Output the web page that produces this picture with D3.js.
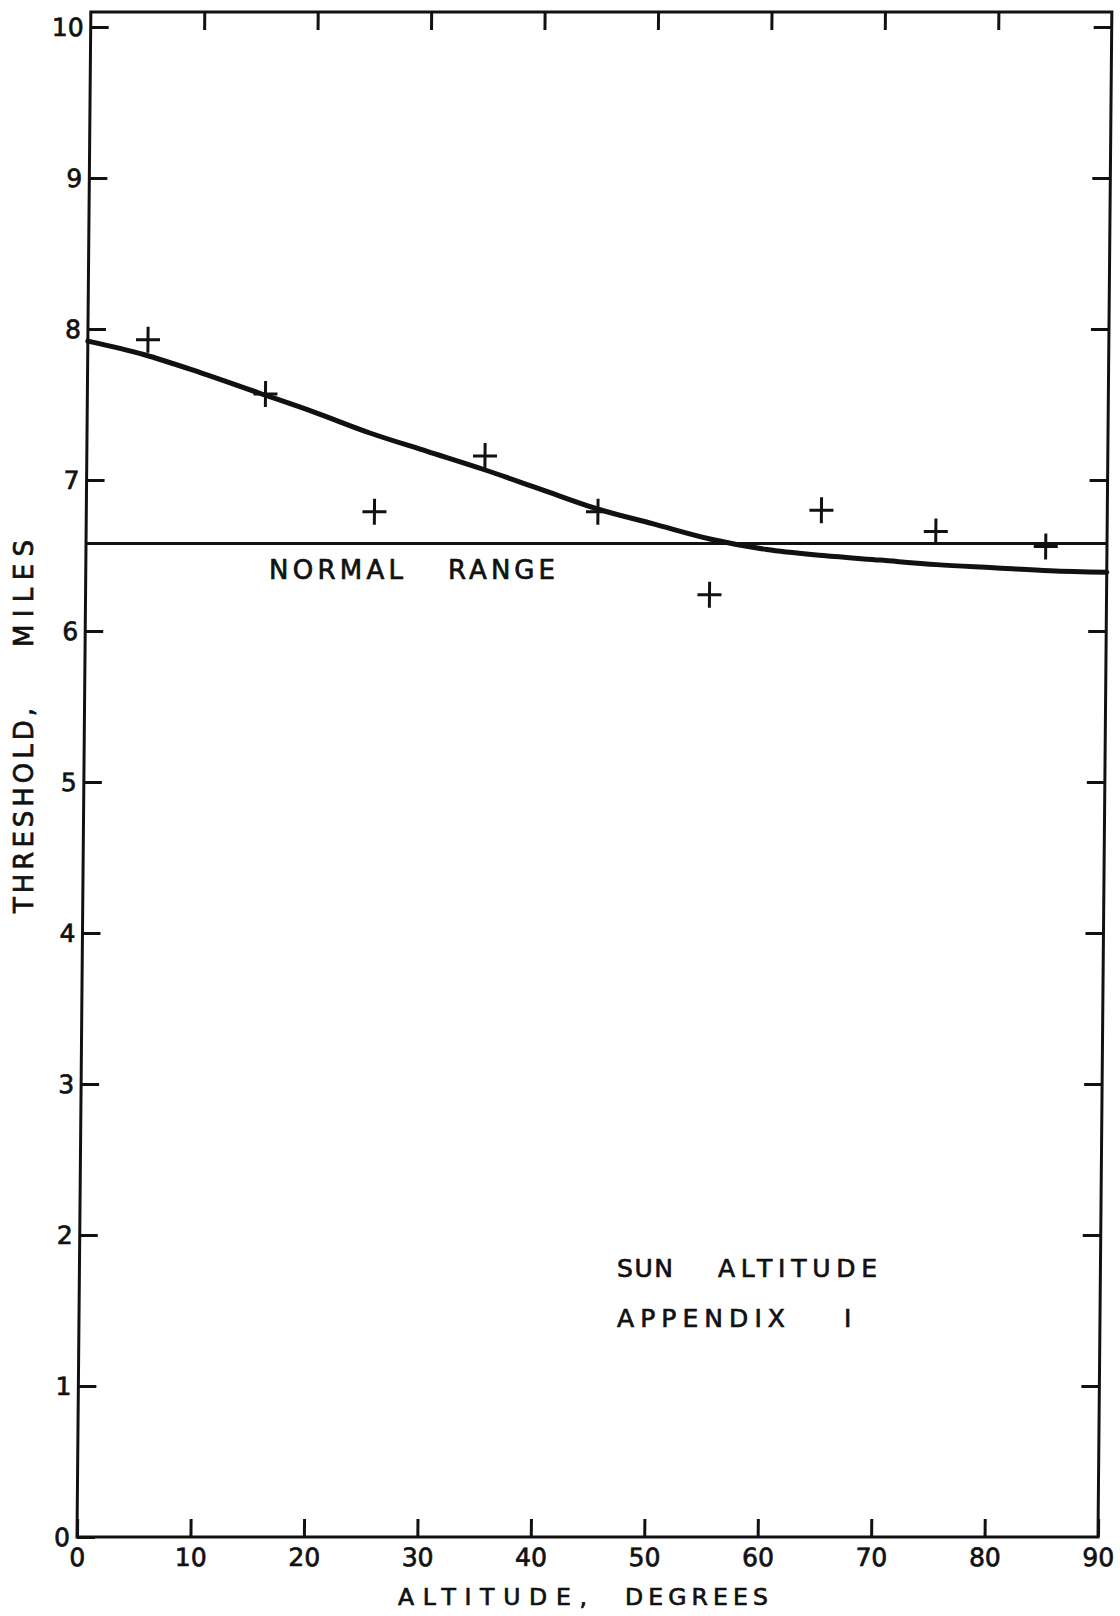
<!DOCTYPE html>
<html>
<head>
<meta charset="utf-8">
<script src="https://cdn.jsdelivr.net/npm/d3@7"></script>
<style>
  body { margin: 0; background: #fff; }
  svg text { font-family: "DejaVu Sans", sans-serif; fill: #111; stroke: #111; stroke-width: 0.7px; }
</style>
</head>
<body>
<svg id="viz" width="1120" height="1616"></svg>
<script>
// tick values
var altitudeTicks = [0, 10, 20, 30, 40, 50, 60, 70, 80, 90];
var thresholdTicks = [0, 1, 2, 3, 4, 5, 6, 7, 8, 9, 10];

// observed points (crosses)
var pointAltitude = [5.3, 15.7, 25.4, 35.1, 45.1, 55.0, 64.8, 74.9, 84.6];
var pointThreshold = [7.93, 7.57, 6.79, 7.16, 6.79, 6.24, 6.80, 6.66, 6.56];

// smoothed curve
var curveAltitude = [0, 5, 10, 15, 20, 25, 30, 35, 40, 45, 50, 55, 60, 65, 70, 75, 80, 85, 90];
var curveThreshold = [7.92, 7.83, 7.71, 7.58, 7.45, 7.31, 7.19, 7.07, 6.94, 6.81, 6.71, 6.61, 6.54, 6.50, 6.47, 6.44, 6.42, 6.40, 6.39];

// normal range level
var normalRange = 6.58;

var svg = d3.select("#viz");
var margin = { top: 12, right: 22, bottom: 79, left: 77 };
var width = 1120 - margin.left - margin.right,
    height = 1616 - margin.top - margin.bottom;

var x = d3.scaleLinear().domain([0, 90]).range([0, width]);
var y = d3.scaleLinear().domain([0, 10.1]).range([height, 0]);

svg.append("rect").attr("width", 1120).attr("height", 1616).attr("fill", "#fff");

// the scanned sheet leans a little to the right towards the top
var g = svg.append("g")
    .attr("transform", "translate(" + margin.left + "," + margin.top + ")");
var plot = g.append("g")
    .attr("transform", "translate(0," + height + ") skewX(-0.52) translate(0," + (-height) + ")");

function styleAxis(sel) {
    sel.select(".domain").remove();
    sel.attr("font-family", "DejaVu Sans").attr("font-size", 25);
    sel.selectAll(".tick line").attr("stroke", "#111").attr("stroke-width", 3);
    sel.selectAll(".tick text").attr("fill", "#111");
}

plot.append("g")
    .attr("class", "axis axis--y")
    .call(d3.axisLeft(y).tickValues(thresholdTicks).tickSize(-18).tickSizeOuter(0).tickPadding(7))
    .call(styleAxis);

plot.append("g")
    .attr("class", "axis axis--x")
    .attr("transform", "translate(0," + height + ")")
    .call(d3.axisBottom(x).tickValues(altitudeTicks).tickSize(-18).tickSizeOuter(0).tickPadding(11))
    .call(styleAxis);

plot.append("g")
    .attr("class", "axis axis--top")
    .call(d3.axisTop(x).tickValues(altitudeTicks.slice(1, -1)).tickSize(-18).tickSizeOuter(0).tickFormat(""))
    .call(styleAxis);

plot.append("g")
    .attr("class", "axis axis--right")
    .attr("transform", "translate(" + width + ",0)")
    .call(d3.axisRight(y).tickValues(thresholdTicks.slice(1)).tickSize(-18).tickSizeOuter(0).tickFormat(""))
    .call(styleAxis);

// frame
plot.append("rect")
    .attr("x", x(0)).attr("y", y(10.1))
    .attr("width", x(90) - x(0)).attr("height", y(0) - y(10.1))
    .attr("fill", "none").attr("stroke", "#111").attr("stroke-width", 3);

// normal range line
plot.append("line")
    .attr("x1", x(0)).attr("x2", x(90))
    .attr("y1", y(normalRange)).attr("y2", y(normalRange))
    .attr("stroke", "#111").attr("stroke-width", 2.8);

// fitted curve
var curveData = curveAltitude.map(function (a, i) { return { alt: a, th: curveThreshold[i] }; });
plot.append("path")
    .datum(curveData)
    .attr("fill", "none")
    .attr("stroke", "#111")
    .attr("stroke-width", 5)
    .attr("stroke-linecap", "round")
    .attr("d", d3.line()
        .x(function (d) { return x(d.alt); })
        .y(function (d) { return y(d.th); })
        .curve(d3.curveMonotoneX));

// crosses
var points = pointAltitude.map(function (a, i) { return { alt: a, th: pointThreshold[i] }; });
plot.selectAll(".cross")
    .data(points)
    .enter().append("path")
    .attr("class", "cross")
    .attr("fill", "none")
    .attr("stroke", "#111")
    .attr("stroke-width", 3)
    .attr("d", function (d) {
        var cx = x(d.alt), cy = y(d.th);
        return "M" + (cx - 12) + "," + cy + "H" + (cx + 12) +
               "M" + cx + "," + (cy - 13) + "V" + (cy + 13);
    });

// lettering, placed in page coordinates
function letter(txt, x0, x1, base, size) {
    return svg.append("text")
        .attr("x", x0).attr("y", base)
        .attr("font-size", size)
        .attr("textLength", x1 - x0)
        .attr("lengthAdjust", "spacing")
        .text(txt);
}

letter("NORMAL", 269, 403, 579, 26);
letter("RANGE", 448, 555, 579, 26);

letter("SUN", 617, 673, 1277, 25);
letter("ALTITUDE", 718, 877, 1277, 25);
letter("APPENDIX", 617, 785, 1327, 25);
letter("I", 844, 850, 1327, 25);

letter("ALTITUDE,", 398, 587, 1605, 23.5);
letter("DEGREES", 625, 768, 1605, 23.5);

var ytitle = svg.append("g").attr("transform", "translate(33,913) rotate(-90)");
ytitle.append("text").attr("x", 0).attr("y", 0).attr("font-size", 26)
    .attr("textLength", 205).attr("lengthAdjust", "spacing").text("THRESHOLD,");
ytitle.append("text").attr("x", 266).attr("y", 0).attr("font-size", 26)
    .attr("textLength", 107).attr("lengthAdjust", "spacing").text("MILES");
</script>
</body>
</html>
